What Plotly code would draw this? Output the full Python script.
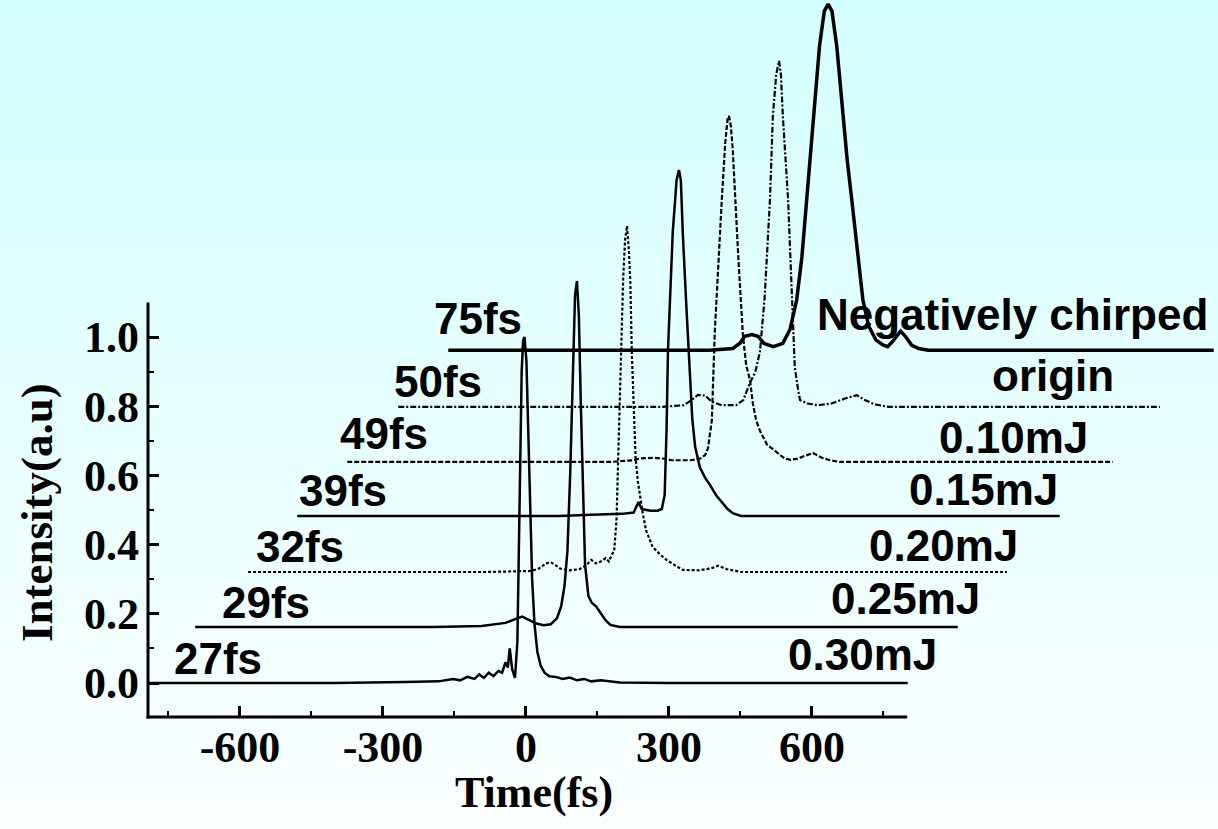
import plotly.graph_objects as go

# ---------------- data ----------------
pulse_labels = ["27fs", "29fs", "32fs", "39fs", "49fs", "50fs", "75fs"]
energy_labels = ["0.30mJ", "0.25mJ", "0.20mJ", "0.15mJ", "0.10mJ", "origin", "Negatively chirped"]

# waterfall offsets of each trace (time of the peak, baseline level)
shift_x = [-3, 107, 212, 321, 426, 531, 634]
shift_y = [0.0, 0.162, 0.321, 0.483, 0.639, 0.798, 0.962]

# traces: time relative to own peak (fs), normalised intensity
t_030 = [-790, -400, -250, -180, -150, -135, -120, -105, -95, -85, -75, -65, -55, -47, -40, -35, -31, -26, -20,
         -15, -10, -6, -3, 0, 4, 8, 12, 16, 21, 27, 34, 42, 52, 65, 80, 95, 110, 125, 140, 160, 200, 300, 500, 804]
i_030 = [0, 0, 0.003, 0.005, 0.012, 0.008, 0.018, 0.012, 0.025, 0.015, 0.03, 0.02, 0.035, 0.03, 0.06, 0.045, 0.1,
         0.04, 0.015, 0.12, 0.55, 0.9, 0.99, 1.0, 0.93, 0.72, 0.48, 0.3, 0.17, 0.09, 0.05, 0.03, 0.02, 0.018, 0.012,
         0.016, 0.008, 0.012, 0.005, 0.008, 0.002, 0.0, 0.0, 0.0]

t_025 = [-801, -300, -200, -170, -150, -135, -125, -115, -100, -85, -70, -55, -42, -33, -26, -20, -14, -9, -4, 0,
         4, 8, 12, 17, 24, 31, 40, 50, 60, 70, 90, 200, 799]
i_025 = [0, 0, 0.003, 0.008, 0.012, 0.02, 0.025, 0.03, 0.02, 0.01, 0.005, 0.008, 0.025, 0.06, 0.12, 0.22, 0.45,
         0.75, 0.96, 1.0, 0.9, 0.65, 0.4, 0.18, 0.09, 0.07, 0.06, 0.04, 0.02, 0.006, 0.0, 0.0, 0.0]

t_020 = [-795, -300, -200, -185, -170, -160, -150, -140, -120, -100, -85, -75, -65, -55, -45, -38, -32, -27, -22,
         -18, -14, -8, -4, 0, 4, 7, 10, 14, 18, 23, 28, 33, 40, 54, 70, 84, 100, 117, 150, 175, 191, 210, 240, 797]
i_020 = [0, 0, 0.003, 0.01, 0.025, 0.028, 0.02, 0.01, 0.005, 0.008, 0.02, 0.035, 0.025, 0.03, 0.04, 0.03, 0.05,
         0.06, 0.15, 0.35, 0.62, 0.85, 0.96, 1.0, 0.93, 0.84, 0.64, 0.45, 0.33, 0.26, 0.21, 0.17, 0.12, 0.072, 0.05,
         0.034, 0.02, 0.006, 0.005, 0.01, 0.018, 0.008, 0.0, 0.0]

t_015 = [-801, -250, -200, -150, -120, -95, -85, -78, -60, -45, -36, -30, -26, -23, -13, -5, 0, 4, 8, 15, 20, 24,
         28, 34, 44, 55, 65, 78, 90, 102, 113, 130, 799]
i_015 = [0, 0, 0.003, 0.005, 0.006, 0.01, 0.04, 0.02, 0.015, 0.015, 0.02, 0.06, 0.25, 0.48, 0.82, 0.97, 1.0, 0.97,
         0.82, 0.62, 0.5, 0.38, 0.28, 0.2, 0.14, 0.11, 0.09, 0.06, 0.04, 0.02, 0.008, 0.0, 0.0]

t_010 = [-801, -250, -200, -187, -160, -139, -120, -80, -60, -50, -44, -40, -36, -30, -22, -15, -8, -3, 0, 4, 8, 13,
         20, 29, 36, 44, 50, 57, 65, 80, 101, 115, 128, 145, 160, 176, 195, 215, 233, 805]
i_010 = [0, 0, 0.005, 0.01, 0.012, 0.01, 0.005, 0.005, 0.01, 0.02, 0.04, 0.08, 0.12, 0.37, 0.6, 0.76, 0.92, 0.99,
         1.0, 0.97, 0.9, 0.76, 0.58, 0.37, 0.28, 0.237, 0.17, 0.12, 0.09, 0.05, 0.026, 0.012, 0.006, 0.01, 0.018,
         0.026, 0.012, 0.004, 0.0, 0.0]

t_orig = [-799, -250, -200, -183, -170, -155, -141, -120, -90, -75, -61, -50, -40, -30, -19, -13, -6, 0, 4, 8, 19,
          27, 33, 40, 44, 60, 80, 110, 140, 163, 180, 200, 230, 799]
i_orig = [0, 0, 0.005, 0.02, 0.035, 0.033, 0.015, 0.005, 0.005, 0.02, 0.07, 0.1, 0.16, 0.32, 0.6, 0.84, 0.96, 1.0,
          0.96, 0.84, 0.6, 0.31, 0.115, 0.05, 0.02, 0.01, 0.005, 0.01, 0.025, 0.034, 0.02, 0.008, 0.0, 0.0]

t_neg = [-797, -250, -200, -185, -175, -160, -147, -135, -115, -95, -80, -66, -55, -45, -36, -28, -18, -8, 0, 8, 18,
         30, 40, 50, 62, 73, 85, 100, 115, 125, 135, 145, 152, 162, 175, 190, 210, 809]
i_neg = [0, 0, 0.005, 0.02, 0.04, 0.045, 0.04, 0.02, 0.01, 0.02, 0.06, 0.145, 0.27, 0.43, 0.58, 0.72, 0.88, 0.98,
         1.0, 0.98, 0.88, 0.7, 0.55, 0.43, 0.27, 0.145, 0.07, 0.03, 0.015, 0.01, 0.025, 0.045, 0.055, 0.04, 0.015,
         0.005, 0.0, 0.0]

series_t = [t_030, t_025, t_020, t_015, t_010, t_orig, t_neg]
series_i = [i_030, i_025, i_020, i_015, i_010, i_orig, i_neg]

x_ticks = [-600, -300, 0, 300, 600]
x_minor = [-750, -450, -150, 150, 450, 750]
y_ticks = [0.0, 0.2, 0.4, 0.6, 0.8, 1.0]
y_minor = [0.1, 0.3, 0.5, 0.7, 0.9]
x_axis_end = 800
y_axis_end = 1.1

# ---------------- layout / style ----------------
W, H = 1218, 829
ML, MR, MT, MB = 148, 0, 0, 112
PW, PH = W - ML - MR, H - MT - MB
X_RANGE = [-793, 1452]
Y_RANGE = [-0.098, 1.974]

dashes = ["solid", "solid", "3px,2px", "solid", "5px,2px", "6px,2px,2px,2px", "solid"]
widths = [2.5, 2.5, 2.2, 2.5, 2.2, 2.2, 3.5]

# pixel centres of text labels
pulse_pos = [(218, 658), (266, 602), (300, 546), (343, 490), (384, 433), (438, 382), (478, 318)]
energy_pos = [(862, 654), (906, 598), (943, 545), (983, 489), (1013, 438), (1053, 375), (1012, 314)]


def paper(px, py):
    return (px - ML) / PW, (H - MB - py) / PH


fig = go.Figure()
for k in range(len(series_t)):
    fig.add_trace(go.Scatter(
        x=[t + shift_x[k] for t in series_t[k]],
        y=[v + shift_y[k] for v in series_i[k]],
        mode="lines",
        line=dict(color="black", width=widths[k], dash=dashes[k]),
        showlegend=False, hoverinfo="skip",
    ))

shapes = []
# background gradient (light cyan to near white)
n_band = 83
top_rgb = (212, 255, 255)
bot_rgb = (250, 255, 255)
for b in range(n_band):
    f = b / (n_band - 1)
    col = "rgb(%d,%d,%d)" % tuple(round(top_rgb[c] + (bot_rgb[c] - top_rgb[c]) * f) for c in range(3))
    py0 = b * H / n_band
    py1 = (b + 1) * H / n_band + 1
    _, y0 = paper(0, py0)
    _, y1 = paper(0, py1)
    shapes.append(dict(type="rect", xref="paper", yref="paper", x0=-ML / PW - 0.01, x1=1.01, y0=y0, y1=y1,
                       fillcolor=col, line=dict(width=0), layer="below"))

# axis lines (only span part of the plotting area, like the original)
y_top_paper = (y_axis_end - Y_RANGE[0]) / (Y_RANGE[1] - Y_RANGE[0])
x_end_paper = (x_axis_end - X_RANGE[0]) / (X_RANGE[1] - X_RANGE[0])
shapes.append(dict(type="line", xref="paper", yref="paper", x0=0, x1=0, y0=-0.002, y1=y_top_paper,
                   line=dict(color="black", width=3)))
shapes.append(dict(type="line", xref="paper", yref="paper", x0=-0.0014, x1=x_end_paper, y0=0, y1=0,
                   line=dict(color="black", width=3)))

label_font = dict(family="Liberation Sans", size=44, color="black", weight="bold")
annotations = []
for lab, (px, py) in zip(pulse_labels, pulse_pos):
    ax, ay = paper(px, py)
    annotations.append(dict(text=lab, x=ax, y=ay, xref="paper", yref="paper", showarrow=False,
                             xanchor="center", yanchor="middle", font=label_font))
for lab, (px, py) in zip(energy_labels, energy_pos):
    ax, ay = paper(px, py)
    annotations.append(dict(text=lab, x=ax, y=ay, xref="paper", yref="paper", showarrow=False,
                             xanchor="center", yanchor="middle", font=label_font))

tx, ty = paper(37, 513)
annotations.append(dict(text="Intensity(a.u)", x=tx, y=ty, xref="paper", yref="paper", showarrow=False,
                         textangle=-90, xanchor="center", yanchor="middle",
                         font=dict(family="Liberation Serif", size=45, color="black", weight="bold")))
tx, ty = paper(534, 792)
annotations.append(dict(text="Time(fs)", x=tx, y=ty, xref="paper", yref="paper", showarrow=False,
                         xanchor="center", yanchor="middle",
                         font=dict(family="Liberation Serif", size=44, color="black", weight="bold")))

tickfont = dict(family="Liberation Serif", size=44, color="black", weight="bold")

fig.update_layout(
    width=W, height=H,
    margin=dict(l=ML, r=MR, t=MT, b=MB, pad=0),
    paper_bgcolor="rgb(232,255,255)",
    plot_bgcolor="rgba(0,0,0,0)",
    shapes=shapes,
    annotations=annotations,
    xaxis=dict(range=X_RANGE, showgrid=False, zeroline=False, showline=False,
               tickmode="array", tickvals=x_ticks, ticktext=[str(v) for v in x_ticks],
               ticks="inside", ticklen=11, tickwidth=2.5, tickcolor="black",
               minor=dict(tickmode="array", tickvals=x_minor, ticks="inside", ticklen=6, tickwidth=2,
                          tickcolor="black"),
               tickfont=tickfont, ticklabelstandoff=0),
    yaxis=dict(range=Y_RANGE, showgrid=False, zeroline=False, showline=False,
               tickmode="array", tickvals=y_ticks, ticktext=["%.1f" % v for v in y_ticks],
               ticks="inside", ticklen=11, tickwidth=2.5, tickcolor="black",
               minor=dict(tickmode="array", tickvals=y_minor, ticks="inside", ticklen=6, tickwidth=2,
                          tickcolor="black"),
               tickfont=tickfont, ticklabelstandoff=8),
)

fig.write_html("out.html")
